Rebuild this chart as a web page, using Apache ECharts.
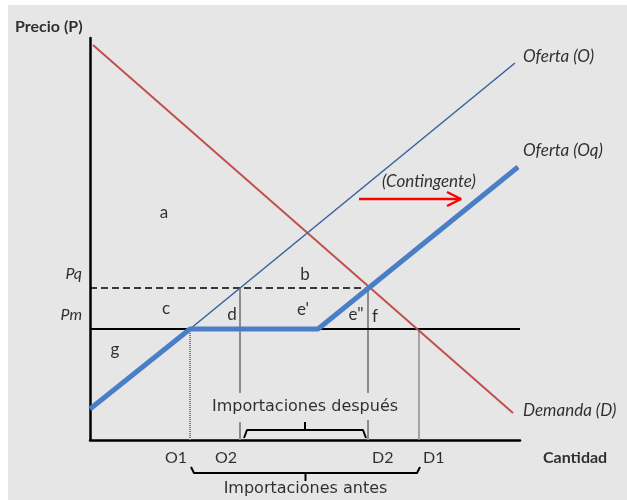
<!DOCTYPE html>
<html lang="es">
<head>
<meta charset="UTF-8">
<title>Contingente de importación</title>
<script src="https://cdn.jsdelivr.net/npm/echarts@6/dist/echarts.min.js"></script>
<style>
  html,body{margin:0;padding:0;background:#fff;}
  #fondo{position:absolute;left:8px;top:5px;width:619px;height:495px;background:#e6e6e6;}
  #chart{position:absolute;left:0;top:0;width:627px;height:500px;}
</style>
</head>
<body>
<div id="fondo"></div>
<div id="chart"></div>
<script>
// escalas (cantidad / precio)
var xMax = 43, yMax = 40.2;

// precios
var Pm = 11.1, Pq = 15.2;
// cantidades
var O1 = 10, O2 = 15, D2 = 27.8, D1 = 32.9;

// curvas
var demanda = [[0.3, 39.5], [42.3, 2.7]];
var oferta = [[O1, Pm], [42.5, 37.7]];
var ofertaQ = [[0, 3.1], [O1, Pm], [22.8, Pm], [42.8, 27.3]];
var flecha = [[26.9, 24.1], [37.1, 24.1]];

// etiquetas de los ejes
var ejeX = ['O1', 'O2', 'D2', 'D1'];
var ejeXval = [O1, O2, D2, D1];
var ejeY = ['Pq', 'Pm'];
var ejeYval = [Pq, Pm];

// areas
var areas = ['a', 'b', 'c', 'd', "e'", 'e"', 'f', 'g'];
var areasX = [7.4, 21.5, 7.6, 14.2, 21.3, 26.6, 28.5, 2.5];
var areasY = [22.7, 16.5, 13.1, 12.5, 13.0, 12.5, 12.3, 9.0];

// llaves de importaciones
var impDespues = [O2 + 0.4, D2 - 0.2];
var impAntes = [O1 + 0.1, D1 + 0.1];

var fuente = 'Lato';

function llave(span, base, top, pico) {
    var a = span[0], b = span[1], m = (a + b) / 2;
    return [[a, base], [a + 0.3, top], [m, top], [m, pico], [m, top], [b - 0.3, top], [b, base]];
}

function linea(data, color, width, type, z) {
    return {
        type: 'line', data: data, symbol: 'none', clip: false, silent: true, z: z || 2,
        lineStyle: { color: color, width: width, type: type || 'solid' }
    };
}

function texto(items, extra) {
    return {
        type: 'scatter', symbolSize: 0, clip: false, silent: true, z: 10,
        data: items,
        label: Object.assign({
            show: true, position: 'inside', color: '#000', fontFamily: fuente, fontSize: 16,
            formatter: function (p) { return p.name; }
        }, extra || {})
    };
}

var etiquetasAreas = areas.map(function (n, i) {
    return { name: n, value: [areasX[i], areasY[i]] };
});

var etiquetasX = ejeX.map(function (n, i) {
    var izq = n.charAt(0) === 'O';
    return {
        name: n, value: [ejeXval[i], 0],
        label: { align: izq ? 'right' : 'left', offset: [izq ? -3 : 4, 18] }
    };
});

var etiquetasY = ejeY.map(function (n, i) {
    return { name: n, value: [0, ejeYval[i]], label: { align: 'right', offset: [-8, -14] } };
});

var chart = echarts.init(document.getElementById('chart'));
chart.setOption({
    animation: false,
    backgroundColor: 'transparent',
    grid: { left: 90, right: 627 - 90 - 430, top: 38, bottom: 60 },
    xAxis: {
        type: 'value', min: 0, max: xMax,
        axisLine: { show: true, onZero: false, lineStyle: { color: '#000', width: 2.5 } },
        axisTick: { show: false }, axisLabel: { show: false }, splitLine: { show: false }
    },
    yAxis: {
        type: 'value', min: 0, max: yMax,
        axisLine: { show: true, onZero: false, lineStyle: { color: '#000', width: 2.5 } },
        axisTick: { show: false }, axisLabel: { show: false }, splitLine: { show: false }
    },
    series: [
        // verticales
        linea([[O1, 0], [O1, Pm]], '#7a7a7a', 2, [1, 1], 1),
        linea([[O2, 0], [O2, 1.8], [O2, '-'], [O2, 4.7], [O2, Pq]], '#8c8c8c', 2, 'solid', 1),
        linea([[D2, 0], [D2, 2.0], [D2, '-'], [D2, 4.7], [D2, Pq]], '#8c8c8c', 2, 'solid', 1),
        linea([[D1, 0], [D1, Pm]], '#8c8c8c', 1.5, 'solid', 1),
        // precios
        linea([[0, Pm], [xMax, Pm]], '#000', 2, 'solid', 2),
        linea([[0, Pq], [D2, Pq]], '#000', 1.6, [7, 4], 2),
        // curvas
        linea(demanda, '#c0504d', 2, 'solid', 3),
        linea(oferta, '#3a64a0', 1.6, 'solid', 3),
        linea(ofertaQ, '#4a7ec6', 5, 'solid', 4),
        // flecha del contingente
        linea(flecha, '#ff0000', 2.5, 'solid', 5),
        linea([[flecha[1][0] - 1.4, flecha[1][1] + 0.7], flecha[1], [flecha[1][0] - 1.4, flecha[1][1] - 0.7]], '#ff0000', 2.5, 'solid', 5),
        // llaves
        linea(llave(impDespues, 0.2, 1.0, 1.8), '#000', 2, 'solid', 5),
        linea(llave(impAntes, -2.7, -3.3, -4.1), '#000', 2, 'solid', 5),
        // textos
        texto(etiquetasAreas, { fontSize: 17 }),
        texto(etiquetasX),
        texto(etiquetasY, { fontStyle: 'italic' }),
        texto([
            { name: 'Oferta (O)', value: oferta[1], label: { align: 'left', offset: [8, -6] } },
            { name: 'Oferta (Oq)', value: ofertaQ[3], label: { align: 'left', offset: [5, -16] } },
            { name: 'Demanda (D)', value: demanda[1], label: { align: 'left', offset: [10, -2] } },
            { name: '(Contingente)', value: [33.9, 25.8] }
        ], { fontStyle: 'italic', fontSize: 17 }),
        texto([
            { name: 'Precio (P)', value: [0, yMax], label: { align: 'left', offset: [-75, -11] } },
            { name: 'Cantidad', value: [xMax, 0], label: { align: 'left', offset: [23, 18] } }
        ], { fontWeight: 'bold' }),
        texto([
            { name: 'Importaciones después', value: [(impDespues[0] + impDespues[1]) / 2, 3.3] },
            { name: 'Importaciones antes', value: [(impAntes[0] + impAntes[1]) / 2, -4.9] }
        ], { fontFamily: 'DejaVu Sans', fontSize: 16 })
    ]
});
</script>
</body>
</html>
